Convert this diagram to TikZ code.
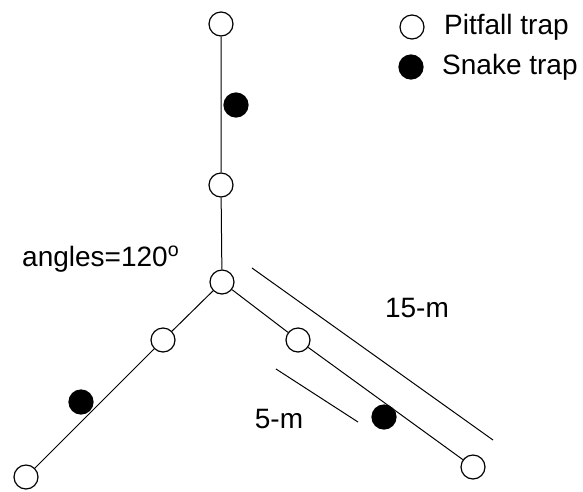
\documentclass[tikz,border=0pt]{standalone}
\usepackage{fontspec}
\setmainfont{Liberation Sans}
\begin{document}
\begin{tikzpicture}[x=1pt,y=-1pt,
  trap/.style={circle,draw,line width=1.2pt,minimum size=24pt,inner sep=0pt},
  pitfall/.style={trap,fill=white},
  snake/.style={trap,fill=black},
  arm/.style={line width=1pt},
  lbl/.style={font=\fontsize{28}{33}\selectfont,inner sep=0pt}]
\useasboundingbox (0,0) rectangle (583,491);

% trap lines (arms of the Y array)
\node[pitfall] (T)  at (221,24)  {};
\node[pitfall] (P1) at (221,185) {};
\node[pitfall] (C)  at (222,282) {};
\node[pitfall] (L1) at (163,340) {};
\node[pitfall] (L3) at (26,477)  {};
\node[pitfall] (R1) at (298,340) {};
\node[pitfall] (R3) at (473,467) {};

\draw[arm] (T) -- (P1) -- (C);
\draw[arm] (C) -- (L1) -- (L3);
\draw[arm] (C) -- (R1) -- (R3);

% snake traps beside the lines
\node[snake] (S1) at (236,105) {};
\node[snake] (S2) at (81,402)  {};
\node[snake] (S3) at (384,417) {};

% distance markers
\coordinate (a1) at (252,268);
\coordinate (a2) at (493,440);
\coordinate (b1) at (276,369);
\coordinate (b2) at (358,422);
\draw[arm] (a1) -- (a2);
\draw[arm] (b1) -- (b2);

\node[lbl,anchor=base west] (ang) at (22,266) {angles=120\textsuperscript{o}};
\node[lbl] (m15) at (417,308) {15-m};
\node[lbl] (m5)  at (279,419) {5-m};

% legend
\node[pitfall] (kp) at (412,27) {};
\node[lbl,anchor=west] (kpt) at (444,27) {Pitfall trap};
\node[snake] (ks) at (411,67) {};
\node[lbl,anchor=west] (kst) at (442,67) {Snake trap};
\end{tikzpicture}
\end{document}
